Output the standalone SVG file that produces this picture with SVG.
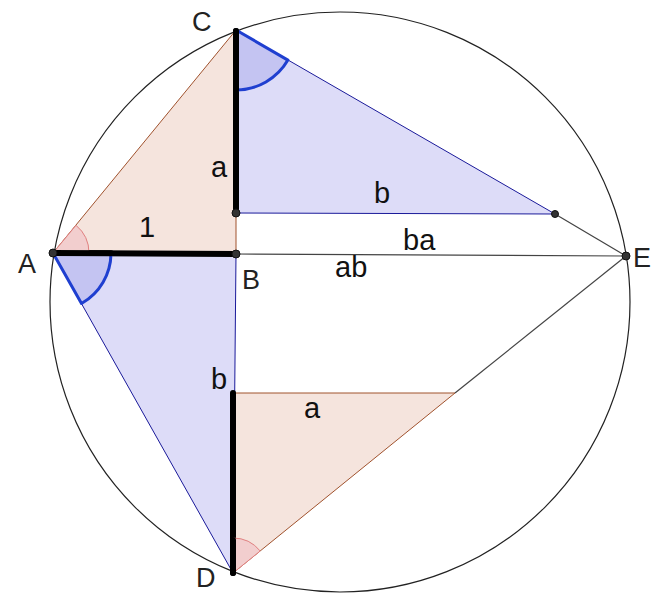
<svg xmlns="http://www.w3.org/2000/svg" width="665" height="595" viewBox="0 0 665 595">
<style>
.orange{fill:#f5e4dd;stroke:#a0522d;stroke-width:1}
.blue{fill:#dddcf8;stroke:#1a1a9a;stroke-width:1}
.thin{stroke:#444;stroke-width:1.2;fill:none}
.thick{stroke:#000;stroke-width:6;stroke-linecap:round}
.pt{fill:#333;stroke:#111;stroke-width:1}
.lbl{font-family:"Liberation Sans",Arial,sans-serif;font-size:27px;fill:#222}
.seg{font-family:"Liberation Sans",Arial,sans-serif;font-size:29px;fill:#111}
.arcB{fill:#c4c4f2;stroke:#1f3fd0;stroke-width:3;stroke-linejoin:round}
.arcP{fill:#f2cece;stroke:#e08080;stroke-width:1}
</style>
<rect width="665" height="595" fill="#fff"/>
<g id="circle"><circle cx="340" cy="302" r="290" fill="none" stroke="#222" stroke-width="1.2"/></g>
<g id="triangles">
<polygon class="orange" points="53,253 236,30 236,254"/>
<polygon class="blue" points="236,30 236,213 555,214"/>
<polygon class="blue" points="53,253 236,254 233,573"/>
<polygon class="orange" points="233,393 455,393 233,573"/>
</g>
<g id="connectors">
<line class="thin" x1="236" y1="254" x2="626" y2="256"/>
<line class="thin" x1="555" y1="214" x2="626" y2="256"/>
<line class="thin" x1="455" y1="393" x2="626" y2="256"/>
<line class="thick" x1="53" y1="253" x2="236" y2="254"/>
<line class="thick" x1="236" y1="31" x2="236" y2="213"/>
<line class="thick" x1="233" y1="393" x2="233" y2="573"/>
</g>
<g id="angles">
<path class="arcP" d="M53,253 L89,253 A36,36 0 0 0 76,225.3 Z"/>
<path class="arcB" d="M53,253 L111,253 A58,58 0 0 1 81.5,303.5 Z"/>
<path class="arcB" d="M236,30 L236,90 A60,60 0 0 0 287.9,60.1 Z"/>
<path class="arcP" d="M233,573 L233,538 A35,35 0 0 1 260.2,551 Z"/>
<line class="thick" x1="53" y1="253" x2="111" y2="253.3"/>
<line class="thick" x1="236" y1="31" x2="236" y2="90"/>
<line class="thick" x1="233" y1="540" x2="233" y2="573"/>
</g>
<g id="node-A"><circle class="pt" cx="53" cy="253" r="4"/><text class="lbl" x="18" y="273">A</text></g>
<g id="node-B"><circle class="pt" cx="236" cy="254" r="4"/><text class="lbl" x="242" y="289">B</text></g>
<g id="node-C"><text class="lbl" x="192" y="31">C</text></g>
<g id="node-D"><text class="lbl" x="196" y="587">D</text></g>
<g id="node-E"><circle class="pt" cx="626" cy="256" r="4"/><text class="lbl" x="633" y="267">E</text></g>
<g id="node-P"><circle class="pt" cx="236" cy="213" r="4"/></g>
<g id="node-Q"><circle class="pt" cx="555" cy="214" r="3.5"/></g>
<g id="labels">
<text class="seg" x="211" y="177">a</text>
<text class="seg" x="139" y="237">1</text>
<text class="seg" x="374" y="203">b</text>
<text class="seg" x="403" y="250">ba</text>
<text class="seg" x="335" y="277">ab</text>
<text class="seg" x="211" y="389">b</text>
<text class="seg" x="304" y="418">a</text>
</g>
</svg>
